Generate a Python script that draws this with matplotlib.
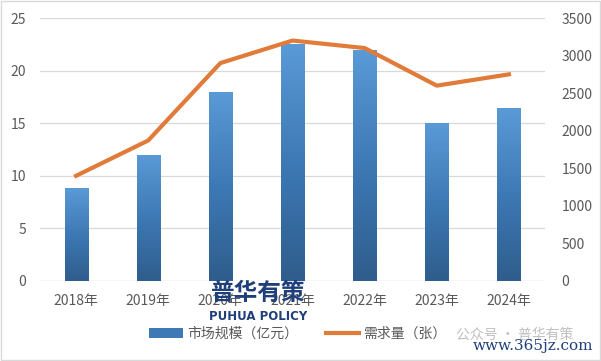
import numpy as np
import matplotlib.pyplot as plt
from matplotlib.patches import Rectangle
from matplotlib.lines import Line2D
from matplotlib.colors import LinearSegmentedColormap

plt.rcParams['font.family'] = ['Noto Sans CJK SC', 'DejaVu Sans']

# --- 数据 ---
years = ['2018年', '2019年', '2020年', '2021年', '2022年', '2023年', '2024年']
market_size = [8.8, 12.0, 18.0, 22.5, 22.0, 15.0, 16.4]   # 亿元
demand = [1400, 1870, 2900, 3200, 3100, 2600, 2750]        # 张
left_ticks = [0, 5, 10, 15, 20, 25]
right_ticks = [0, 500, 1000, 1500, 2000, 2500, 3000, 3500]

fig = plt.figure(figsize=(6.01, 3.61), dpi=100)
ax1 = fig.add_axes([40 / 601, 1 - 281 / 361, 505 / 601, 263 / 361])
ax2 = ax1.twinx()

x = np.arange(len(years))
bar_w = 0.32
grad = LinearSegmentedColormap.from_list('bar', ['#2f5d8c', '#3d79b5', '#5a9ad6'])
gradient = np.linspace(0, 1, 256).reshape(-1, 1)

# 渐变柱
for xi, v in zip(x, market_size):
    im = ax1.imshow(gradient, cmap=grad, origin='lower', aspect='auto',
                    extent=[xi - bar_w / 2, xi + bar_w / 2, 0, v], zorder=2)
    clip = Rectangle((xi - bar_w / 2, 0), bar_w, v, transform=ax1.transData)
    im.set_clip_path(clip)

ax1.set_xlim(-0.5, len(years) - 0.5)
ax1.set_ylim(0, 25)
ax1.set_yticks(left_ticks)
ax1.set_xticks(x)
ax1.set_xticklabels(years)
for v in left_ticks[1:]:
    ax1.axhline(v, color='#d9d9d9', lw=0.9, zorder=0)
ax1.axhline(0, color='#d9d9d9', lw=1.0, zorder=1)

ax2.plot(x, demand, color='#e07b39', lw=3.0, solid_joinstyle='round', zorder=3)
ax2.set_ylim(0, 3500)
ax2.set_yticks(right_ticks)

for ax in (ax1, ax2):
    for s in ax.spines.values():
        s.set_visible(False)
    ax.tick_params(length=0, labelsize=10, colors='#595959')
ax1.tick_params(axis='y', pad=10)
ax1.tick_params(axis='x', pad=9)
ax2.tick_params(axis='y', pad=12)

# 图例
handles = [Rectangle((0, 0), 1, 1, facecolor='#3d79b5'),
           Line2D([0], [0], color='#e07b39', lw=3)]
fig.legend(handles, ['市场规模（亿元）', '需求量（张）'], loc='center',
           bbox_to_anchor=(298 / 601, 1 - 334 / 361), ncol=2, frameon=False,
           fontsize=10, labelcolor='#595959', handlelength=2.4, columnspacing=2.0,
           handletextpad=0.3)

# 水印
fig.text(258 / 601, 1 - 293 / 361, '普华有策', fontsize=17, fontweight='bold',
         color='#1f3f7a', ha='center', va='center')
fig.text(258 / 601, 1 - 316 / 361, 'PUHUA POLICY', fontsize=8.5, fontweight='bold',
         color='#1f3f7a', ha='center', va='center', family='DejaVu Sans')
fig.text(515 / 601, 1 - 335 / 361, '公众号 · 普华有策', fontsize=10,
         color='#b0b0b0', ha='center', va='center', alpha=0.8)
fig.text(593 / 601, 1 - 346 / 361, 'www.365jz.com', fontsize=11,
         color='#1f3f7a', ha='right', va='center', family='DejaVu Serif')

fig.patches.append(Rectangle((0.002, 0.003), 0.996, 0.994, transform=fig.transFigure,
                             fill=False, edgecolor='#d9d9d9', lw=1))

fig.savefig('out.png', dpi=100)
